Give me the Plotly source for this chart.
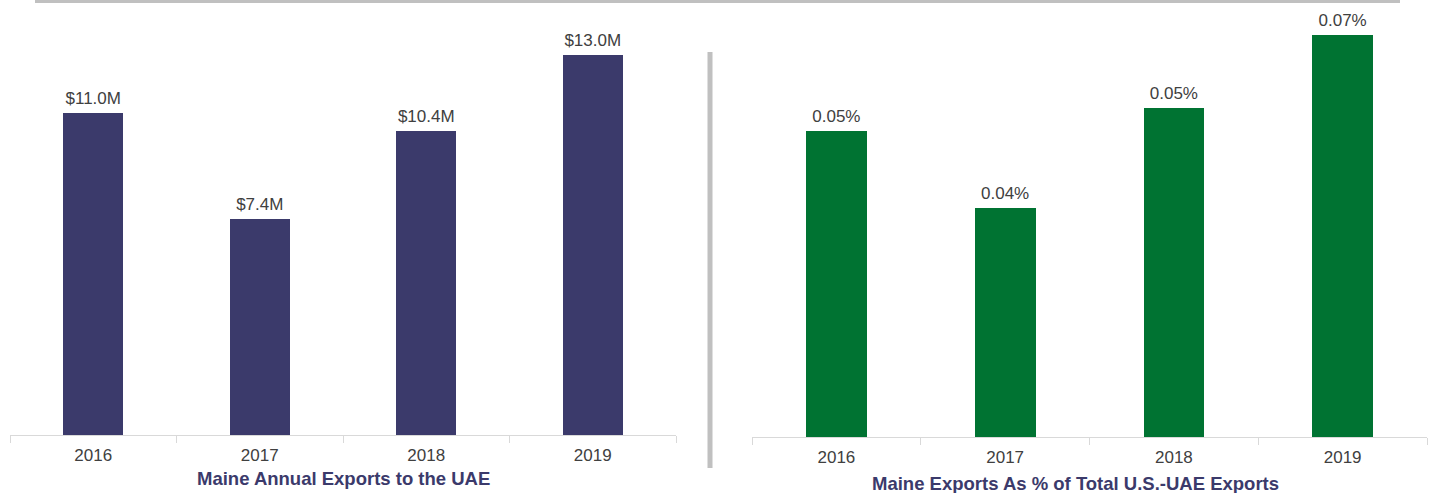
import plotly.graph_objects as go

years = ["2016", "2017", "2018", "2019"]
exports_musd = [11.0, 7.4, 10.4, 13.0]
exports_labels = ["$11.0M", "$7.4M", "$10.4M", "$13.0M"]
share_pct = [0.0502, 0.0376, 0.0540, 0.0660]
share_labels = ["0.05%", "0.04%", "0.05%", "0.07%"]

left_title = "Maine Annual Exports to the UAE"
right_title = "Maine Exports As % of Total U.S.-UAE Exports"

NAVY = "#3b3a6b"
GREEN = "#007332"
LABEL = "#404040"
AXIS = "#d9d9d9"
FONT = "Liberation Sans, Arial, sans-serif"

W, H = 1432, 493


def px_x(p):
    return p / W


def px_y(p):
    return 1 - p / H


fig = go.Figure()
fig.add_trace(go.Bar(
    x=years, y=exports_musd,
    marker=dict(color=NAVY, line=dict(width=0)), width=0.36,
    xaxis="x", yaxis="y", showlegend=False, hoverinfo="x+y",
))
fig.add_trace(go.Bar(
    x=years, y=share_pct,
    marker=dict(color=GREEN, line=dict(width=0)), width=0.36,
    xaxis="x2", yaxis="y2", showlegend=False, hoverinfo="x+y",
))
fig.add_trace(go.Scatter(
    x=years, y=exports_musd, text=exports_labels, mode="markers+text",
    textposition="top center", marker=dict(size=6, opacity=0),
    textfont=dict(size=17, color=LABEL, family=FONT), cliponaxis=False,
    xaxis="x", yaxis="y", showlegend=False, hoverinfo="skip",
))
fig.add_trace(go.Scatter(
    x=years, y=share_pct, text=share_labels, mode="markers+text",
    textposition="top center", marker=dict(size=6, opacity=0),
    textfont=dict(size=17, color=LABEL, family=FONT), cliponaxis=False,
    xaxis="x2", yaxis="y2", showlegend=False, hoverinfo="skip",
))

annotations = [
    dict(text=f"<b>{left_title}</b>", xref="paper", yref="paper",
         x=px_x(343), y=px_y(478), xanchor="center", yanchor="middle",
         showarrow=False, font=dict(size=18.5, color=NAVY, family=FONT)),
    dict(text=f"<b>{right_title}</b>", xref="paper", yref="paper",
         x=px_x(1075), y=px_y(483), xanchor="center", yanchor="middle",
         showarrow=False, font=dict(size=18.5, color=NAVY, family=FONT)),
]

xcommon = dict(
    type="category", showline=True, linecolor=AXIS, linewidth=1,
    ticks="outside", tickson="boundaries", ticklen=7, tickcolor=AXIS,
    tickfont=dict(size=17, color=LABEL, family=FONT), ticklabelstandoff=5,
    showgrid=False, zeroline=False, fixedrange=True,
    categoryorder="array", categoryarray=years, range=[-0.5, len(years) - 0.5],
)
ycommon = dict(visible=False, showgrid=False, zeroline=False, fixedrange=True)

fig.update_layout(
    width=W, height=H,
    margin=dict(l=0, r=0, t=0, b=0),
    paper_bgcolor="white", plot_bgcolor="white",
    bargap=0,
    xaxis=dict(domain=[px_x(10), px_x(676)], anchor="y", **xcommon),
    yaxis=dict(domain=[px_y(435), 1], range=[0, 435 / 29.25], anchor="x", **ycommon),
    xaxis2=dict(domain=[px_x(752), px_x(1427)], anchor="y2", **xcommon),
    yaxis2=dict(domain=[px_y(437), 1], range=[0, 437 / 6091], anchor="x2", **ycommon),
    font=dict(family=FONT),
    shapes=[
        dict(type="line", xref="paper", yref="paper",
             x0=px_x(35), x1=px_x(1400), y0=px_y(1.5), y1=px_y(1.5),
             line=dict(color="#c0c0c0", width=3)),
        dict(type="line", xref="paper", yref="paper",
             x0=px_x(710), x1=px_x(710), y0=px_y(52), y1=px_y(468),
             line=dict(color="#c0c0c0", width=5)),
    ],
    annotations=annotations,
)

fig.write_html(
    "out.html",
    config={"displayModeBar": False},
    post_script="document.body.style.margin='0';document.body.style.overflow='hidden';",
)
